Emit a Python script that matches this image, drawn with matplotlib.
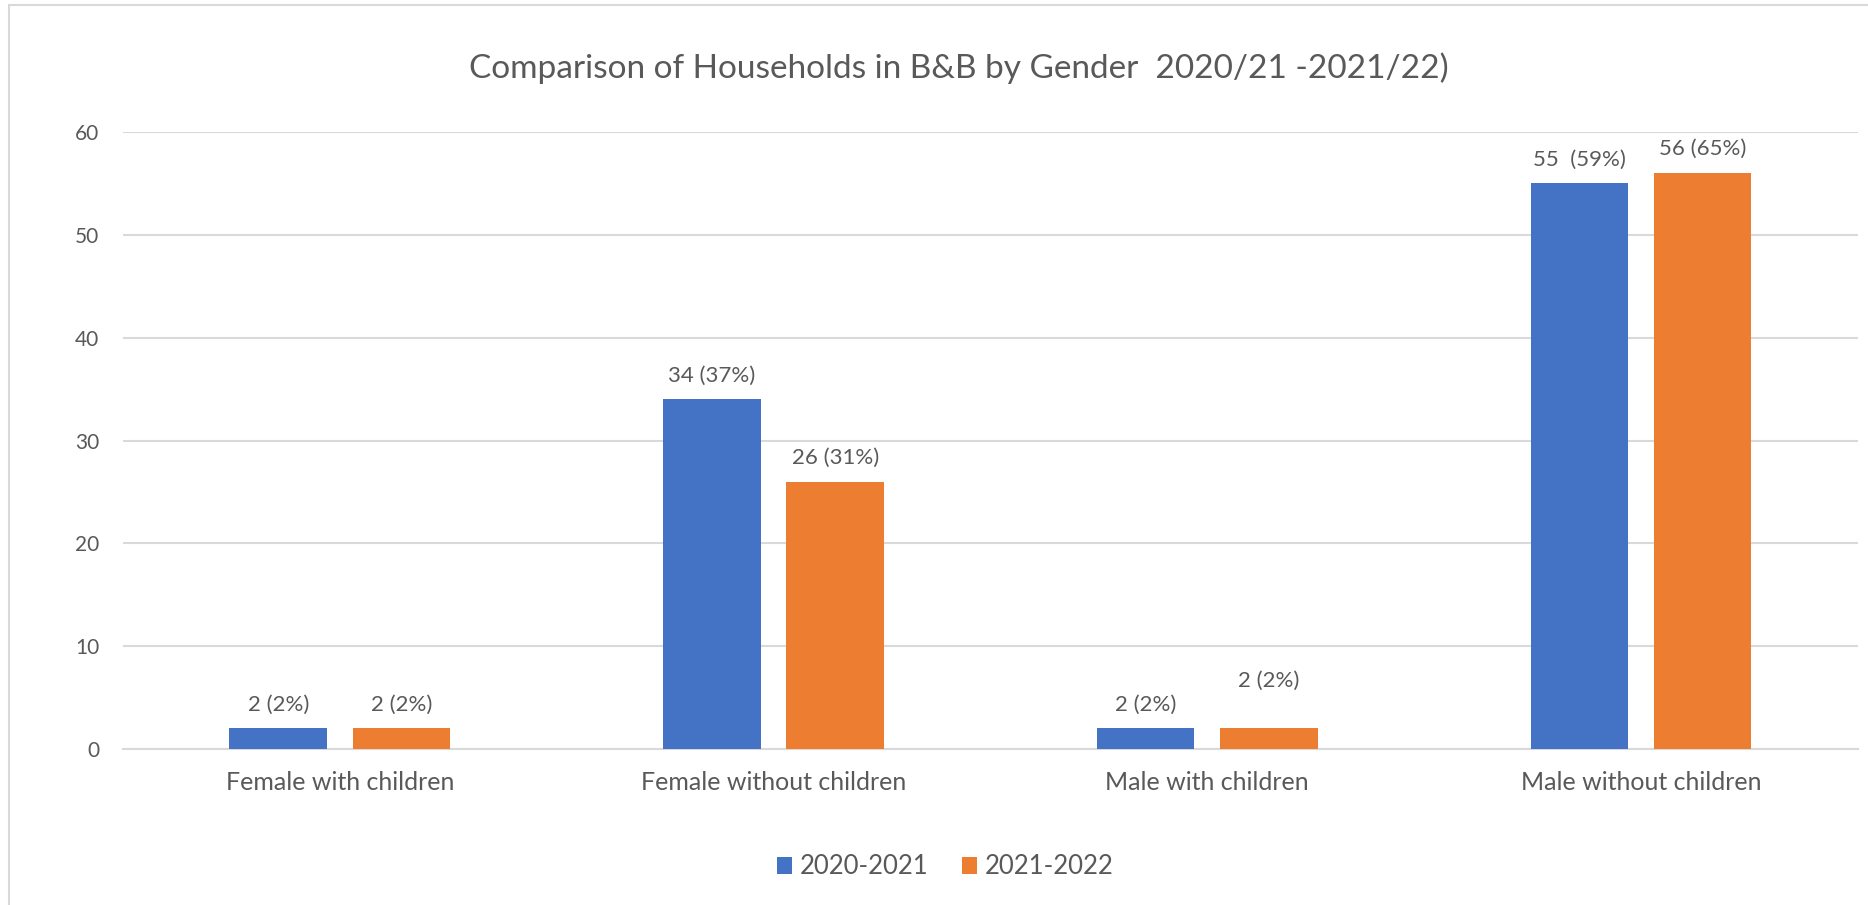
import matplotlib
matplotlib.use('Agg')
import matplotlib.pyplot as plt
from matplotlib.patches import Rectangle
import numpy as np

categorias = ['Female with children', 'Female without children', 'Male with children', 'Male without children']
serie_2021 = [2, 34, 2, 55]
serie_2022 = [2, 26, 2, 56]
etiquetas_2021 = ['2 (2%)', '34 (37%)', '2 (2%)', '55  (59%)']
etiquetas_2022 = ['2 (2%)', '26 (31%)', '2 (2%)', '56 (65%)']
leyenda = ['2020-2021', '2021-2022']

azul = '#4472C4'
naranja = '#ED7D31'
gris_texto = '#595959'
gris_linea = '#D9D9D9'

plt.rcParams['font.family'] = ['Lato', 'DejaVu Sans']

fig = plt.figure(figsize=(18.68, 9.05), dpi=100)
ax = fig.add_axes([0.0658, 0.1724, 0.9288, 0.6817])

# marco exterior del grafico (como en excel)
fig.patches.append(Rectangle((0.0048, -0.05), 1.2, 0.9945 + 0.05, transform=fig.transFigure,
                             fill=False, edgecolor=gris_linea, linewidth=1.5))

x = np.arange(len(categorias))
ancho = 0.225
desp = 0.142
b1 = ax.bar(x - desp, serie_2021, ancho, color=azul, label=leyenda[0], zorder=3)
b2 = ax.bar(x + desp, serie_2022, ancho, color=naranja, label=leyenda[1], zorder=3)

# etiquetas de datos, la de male with children 2021-2022 esta mas arriba en el original
off1 = [10, 10, 10, 10]
off2 = [10, 10, 27, 10]
for i in range(len(categorias)):
    ax.annotate(etiquetas_2021[i], (x[i] - desp, serie_2021[i]), xytext=(0, off1[i]),
                textcoords='offset points', ha='center', va='bottom', fontsize=16, color=gris_texto)
    ax.annotate(etiquetas_2022[i], (x[i] + desp, serie_2022[i]), xytext=(0, off2[i]),
                textcoords='offset points', ha='center', va='bottom', fontsize=16, color=gris_texto)

ax.set_xlim(-0.5, 3.5)
ax.set_ylim(0, 60)
ax.set_yticks(range(0, 61, 10))
ax.set_xticks(x)
ax.set_xticklabels(categorias)
ax.yaxis.grid(True, color=gris_linea, linewidth=1.5, zorder=0)
ax.set_axisbelow(True)
for s in ['top', 'right', 'left']:
    ax.spines[s].set_visible(False)
ax.spines['bottom'].set_color(gris_linea)
ax.spines['bottom'].set_linewidth(1.5)
ax.tick_params(axis='y', length=0, pad=17, labelsize=15, labelcolor=gris_texto)
ax.tick_params(axis='x', length=0, pad=16, labelsize=18, labelcolor=gris_texto)

fig.text(0.5135, 0.925, 'Comparison of Households in B&B by Gender  2020/21 -2021/22)',
         ha='center', va='center', fontsize=24, color=gris_texto)

fig.legend(handles=[b1, b2], labels=leyenda, loc='center', bbox_to_anchor=(0.506, 0.042),
           ncol=2, frameon=False, fontsize=18.5, labelcolor=gris_texto,
           handlelength=0.6, handleheight=0.6, handletextpad=0.3, columnspacing=1.3)

plt.savefig('out.png', dpi=100)
